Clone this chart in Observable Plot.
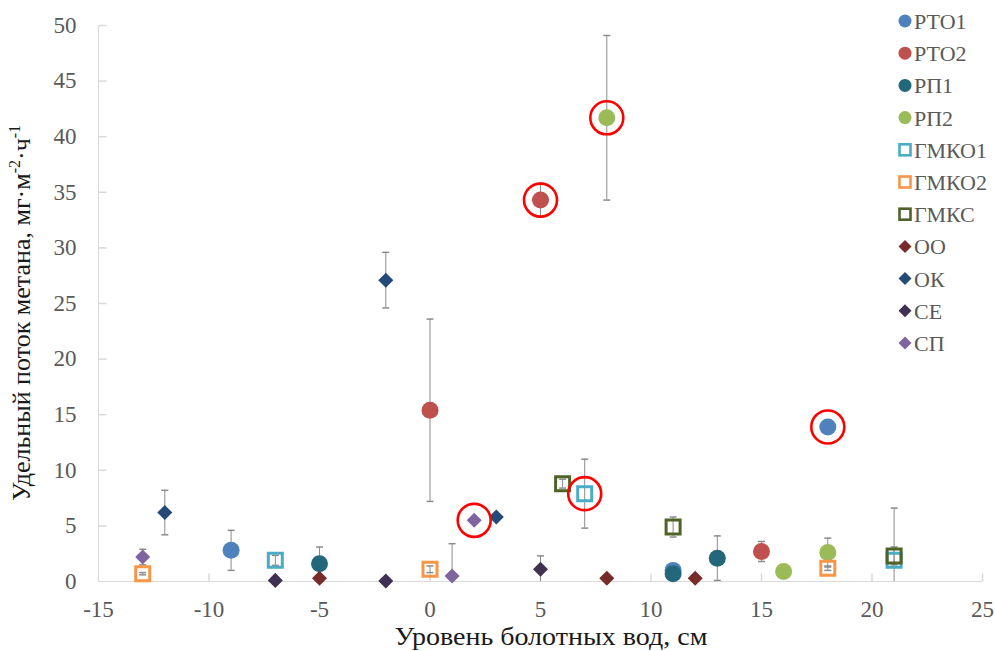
<!DOCTYPE html>
<html><head><meta charset="utf-8">
<script src="https://cdn.jsdelivr.net/npm/d3@7"></script>
<script src="https://cdn.jsdelivr.net/npm/@observablehq/plot@0.6"></script>
<style>
body{margin:0;background:#fff}
#chart{position:relative;width:995px;height:651px;overflow:hidden}
</style>
</head><body><div id="chart"></div>
<script>
// ---- Data ----
const seriesNames  = ["РТО1","РТО2","РП1","РП2","ГМКО1","ГМКО2","ГМКС","ОО","ОК","СЕ","СП"];
const seriesColors = ["#4f81bd","#c0504d","#23687a","#9bbb59","#4bacc6","#f79646","#4f6228","#772c2a","#264a77","#403152","#8064a2"];
const seriesShapes = ["circle","circle","circle","circle","square","square","square","diamond","diamond","diamond","diamond"];

// water level (cm), methane flux (mg·m-2·h-1), error (±)
const rto1X = [-9, 11, 18],        rto1Y = [2.8, 1.0, 13.9],        rto1E = [1.8, 0, 0];
const rto2X = [0, 5, 15],          rto2Y = [15.4, 34.3, 2.7],       rto2E = [8.2, 1.5, 0.9];
const rp1X  = [-5, 11, 13],        rp1Y  = [1.6, 0.7, 2.1],         rp1E  = [1.5, 0, 2.0];
const rp2X  = [8, 16, 18],         rp2Y  = [41.7, 0.9, 2.6],        rp2E  = [7.4, 0, 1.3];
const gmko1X = [-7, 7, 21],        gmko1Y = [1.9, 7.9, 1.9],        gmko1E = [0.45, 3.1, 4.7];
const gmko2X = [-13, 0, 18],       gmko2Y = [0.7, 1.1, 1.2],        gmko2E = [0.1, 0.3, 0.2];
const gmksX = [6, 11, 21],         gmksY = [8.8, 4.9, 2.3],         gmksE = [0.4, 0.9, 0.8];
const ooX = [-5, 8, 12],           ooY = [0.3, 0.3, 0.3],           ooE = [0, 0, 0];
const okX = [-12, -2, 3],          okY = [6.2, 27.1, 5.8],          okE = [2.0, 2.5, 0];
const ceX = [-7, -2, 5],           ceY = [0.1, 0.05, 1.1],          ceE = [0, 0, 1.2];
const cpX = [-13, 1, 2],           cpY = [2.2, 0.5, 5.5],           cpE = [0.7, 2.9, 0];

const seriesX = [rto1X, rto2X, rp1X, rp2X, gmko1X, gmko2X, gmksX, ooX, okX, ceX, cpX];
const seriesY = [rto1Y, rto2Y, rp1Y, rp2Y, gmko1Y, gmko2Y, gmksY, ooY, okY, ceY, cpY];
const seriesE = [rto1E, rto2E, rp1E, rp2E, gmko1E, gmko2E, gmksE, ooE, okE, ceE, cpE];

// points circled in red: [series, water level]
const highlighted = [["РТО2", 5], ["РП2", 8], ["ГМКО1", 7], ["СП", 2], ["РТО1", 18]];

const xTicks = [-15, -10, -5, 0, 5, 10, 15, 20, 25];
const yTicks = [0, 5, 10, 15, 20, 25, 30, 35, 40, 45, 50];
const xTitle = "Уровень болотных вод, см";

// ---- Build table ----
const rows = seriesNames.flatMap((s, i) =>
  seriesX[i].map((x, j) => ({series: s, idx: i, x, y: seriesY[i][j], e: seriesE[i][j]})));
const errRows = rows.filter(d => d.e > 0);
const hlRows = highlighted.map(([s, x]) => rows.find(d => d.series === s && d.x === x));

// ---- Symbols ----
const diamond = {draw(ctx, size) { const h = Math.sqrt(size / 2); ctx.moveTo(0, -h); ctx.lineTo(h, 0); ctx.lineTo(0, h); ctx.lineTo(-h, 0); ctx.closePath(); }};
const capSym = {draw(ctx) { ctx.moveTo(-3.5, 0); ctx.lineTo(3.5, 0); }};
const tickRight = {draw(ctx) { ctx.moveTo(0, 0); ctx.lineTo(8, 0); }};
const tickUp = {draw(ctx) { ctx.moveTo(0, 0); ctx.lineTo(0, -8); }};
const symFor = {circle: "circle", square: d3.symbolSquare, diamond};
const rFor = {circle: 8.5, square: 7.9, diamond: 6.0};

const axisGray = "#d9d9d9";
const errGray = "#8c8c8c";
const font = "'Liberation Serif', 'Times New Roman', serif";

const pointMarks = seriesNames.map((s, i) => {
  const shape = seriesShapes[i];
  const data = rows.filter(d => d.idx === i);
  if (shape === "square")
    return Plot.dot(data, {x: "x", y: "y", symbol: symFor[shape], r: rFor[shape], fill: "none", stroke: seriesColors[i], strokeWidth: 3});
  return Plot.dot(data, {x: "x", y: "y", symbol: symFor[shape], r: rFor[shape], fill: seriesColors[i], stroke: "none"});
});

const chart = Plot.plot({
  width: 995, height: 651,
  marginLeft: 98, marginRight: 13, marginTop: 25, marginBottom: 70,
  style: {fontFamily: font, background: "#fff"},
  x: {domain: [-15, 25]},
  y: {domain: [0, 50]},
  marks: [
    Plot.ruleX([-15], {stroke: axisGray}),
    Plot.ruleY([0], {stroke: axisGray}),
    Plot.dot(yTicks.slice(1), {x: () => -15, y: d => d, symbol: tickRight, r: 3, stroke: axisGray}),
    Plot.dot(xTicks.slice(1), {x: d => d, y: () => 0, symbol: tickUp, r: 3, stroke: axisGray}),
    Plot.axisY(yTicks, {tickSize: 0, tickPadding: 22, fontSize: 23, fill: "#595959", label: null, tickFormat: d => String(d)}),
    Plot.axisX(xTicks, {tickSize: 0, tickPadding: 19, fontSize: 23, fill: "#595959", label: null, tickFormat: d => String(d)}),
    Plot.ruleX(errRows, {x: "x", y1: d => Math.max(0, d.y - d.e), y2: d => d.y + d.e, stroke: errGray, strokeWidth: 1}),
    Plot.dot(errRows, {x: "x", y: d => d.y + d.e, symbol: capSym, r: 3, stroke: errGray}),
    Plot.dot(errRows.filter(d => d.y - d.e >= 0), {x: "x", y: d => d.y - d.e, symbol: capSym, r: 3, stroke: errGray}),
    ...pointMarks,
    Plot.dot(hlRows, {x: "x", y: "y", r: 16.5, stroke: "#ff0000", strokeWidth: 2.6, fill: "none"})
  ]
});

const svg = d3.select(chart);

// axis titles
svg.append("text")
  .attr("x", 551).attr("y", 645)
  .attr("text-anchor", "middle")
  .attr("textLength", 313).attr("lengthAdjust", "spacingAndGlyphs")
  .attr("font-family", font).attr("font-size", 26).attr("fill", "#1a1a1a")
  .text(xTitle);

const yt = svg.append("text")
  .attr("transform", "translate(30,313) rotate(-90)")
  .attr("text-anchor", "middle")
  .attr("font-family", font).attr("font-size", 26).attr("fill", "#1a1a1a");
yt.append("tspan").text("Удельный поток метана, мг·м");
yt.append("tspan").attr("font-size", 16).attr("dy", -10).text("-2");
yt.append("tspan").attr("dy", 10).text("·ч");
yt.append("tspan").attr("font-size", 16).attr("dy", -10).text("-1");

// legend
const lg = svg.append("g").attr("font-family", font).attr("font-size", 22).attr("fill", "#595959").attr("text-anchor", "start");
seriesNames.forEach((s, i) => {
  const cy = 21 + i * 32.2;
  const shape = seriesShapes[i];
  const g = lg.append("g").attr("transform", `translate(905,${cy})`);
  if (shape === "circle") g.append("circle").attr("r", 6.5).attr("fill", seriesColors[i]);
  else if (shape === "square") g.append("rect").attr("x", -5.5).attr("y", -5.5).attr("width", 11).attr("height", 11).attr("fill", "none").attr("stroke", seriesColors[i]).attr("stroke-width", 2.6);
  else g.append("path").attr("d", d3.symbol().type(diamond).size(2 * 6.5 * 6.5)()).attr("fill", seriesColors[i]);
  lg.append("text").attr("x", 914).attr("y", cy).attr("dy", "0.36em").text(s);
});

document.getElementById("chart").appendChild(chart);
</script>
</body></html>
